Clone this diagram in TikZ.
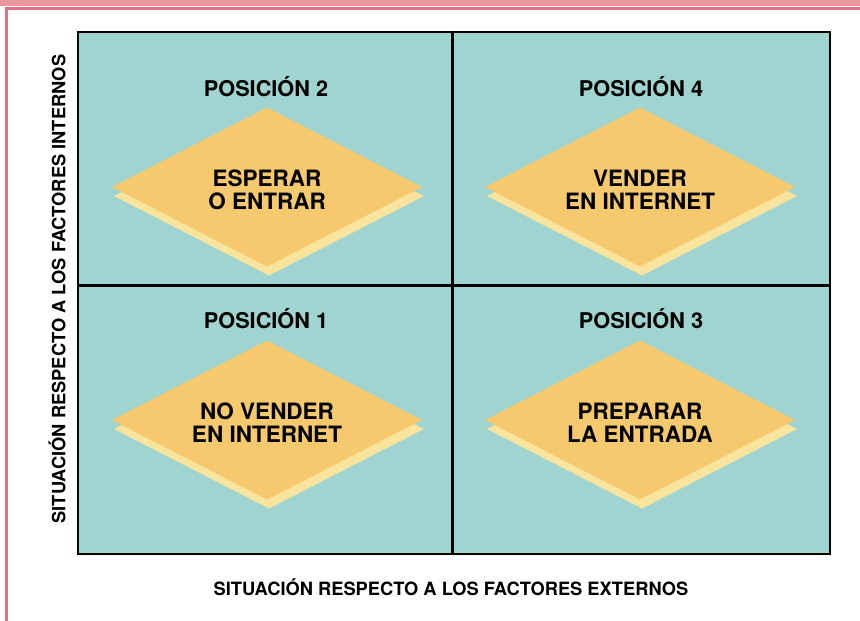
\documentclass[tikz,border=0pt]{standalone}
\usepackage{fontspec}
\setmainfont{TeX Gyre Heros}
\usetikzlibrary{shapes.geometric}
\definecolor{teal0}{HTML}{A0D4D0}
\definecolor{dmain}{HTML}{F7C96E}
\definecolor{dshadow}{HTML}{F8E49C}
\definecolor{pinkband}{HTML}{EE959E}
\definecolor{pinkline}{HTML}{E66E84}
\tikzset{
  cellbox/.style={fill=teal0,draw=black,line width=2.5pt},
  dia/.style={diamond,minimum width=310pt,minimum height=159pt,inner sep=0pt,outer sep=0pt},
  diamain/.style={dia,fill=dmain},
  diashadow/.style={dia,fill=dshadow},
  diatext/.style={align=center,inner sep=0pt,yshift=-3pt,font=\bfseries\fontsize{22.5}{23}\selectfont},
  postitle/.style={font=\bfseries\fontsize{21.7}{24}\selectfont},
  axislabel/.style={font=\bfseries\fontsize{18.3}{20}\selectfont}
}
\begin{document}
\begin{tikzpicture}[x=1pt,y=-1pt]
\useasboundingbox (0,0) rectangle (860,621);
% pink frame
\fill[pinkband] (0,0) rectangle (860,5.7);
\draw[pinkline,line width=2.4pt] (6.3,621) -- (6.3,8.5) -- (860,8.5);
% grid
\draw[cellbox] (78,32) rectangle (830,554);
\draw[black,line width=2.5pt] (452.5,32) -- (452.5,554);
\draw[black,line width=2.5pt] (78,285.5) -- (830,285.5);
% top-left
\node[postitle] (p2) at (266,87) {POSICIÓN 2};
\node[diashadow] (s2) at (269,196) {};
\node[diamain] (d2) at (267,187) {};
\node[diatext] (t2) at (d2.center) {ESPERAR\\O ENTRAR};
% top-right
\node[postitle] (p4) at (641,87) {POSICIÓN 4};
\node[diashadow] (s4) at (642,196) {};
\node[diamain] (d4) at (640,187) {};
\node[diatext] (t4) at (d4.center) {VENDER\\EN INTERNET};
% bottom-left
\node[postitle] (p1) at (266,319) {POSICIÓN 1};
\node[diashadow] (s1) at (269,429) {};
\node[diamain] (d1) at (267,420) {};
\node[diatext] (t1) at (d1.center) {NO VENDER\\EN INTERNET};
% bottom-right
\node[postitle] (p3) at (641,319) {POSICIÓN 3};
\node[diashadow] (s3) at (642,429) {};
\node[diamain] (d3) at (640,420) {};
\node[diatext] (t3) at (d3.center) {PREPARAR\\LA ENTRADA};
% axis labels
\node[axislabel,rotate=90] (ly) at (57,289) {SITUACIÓN RESPECTO A LOS FACTORES INTERNOS};
\node[axislabel] (lx) at (451,587) {SITUACIÓN RESPECTO A LOS FACTORES EXTERNOS};
\end{tikzpicture}
\end{document}
